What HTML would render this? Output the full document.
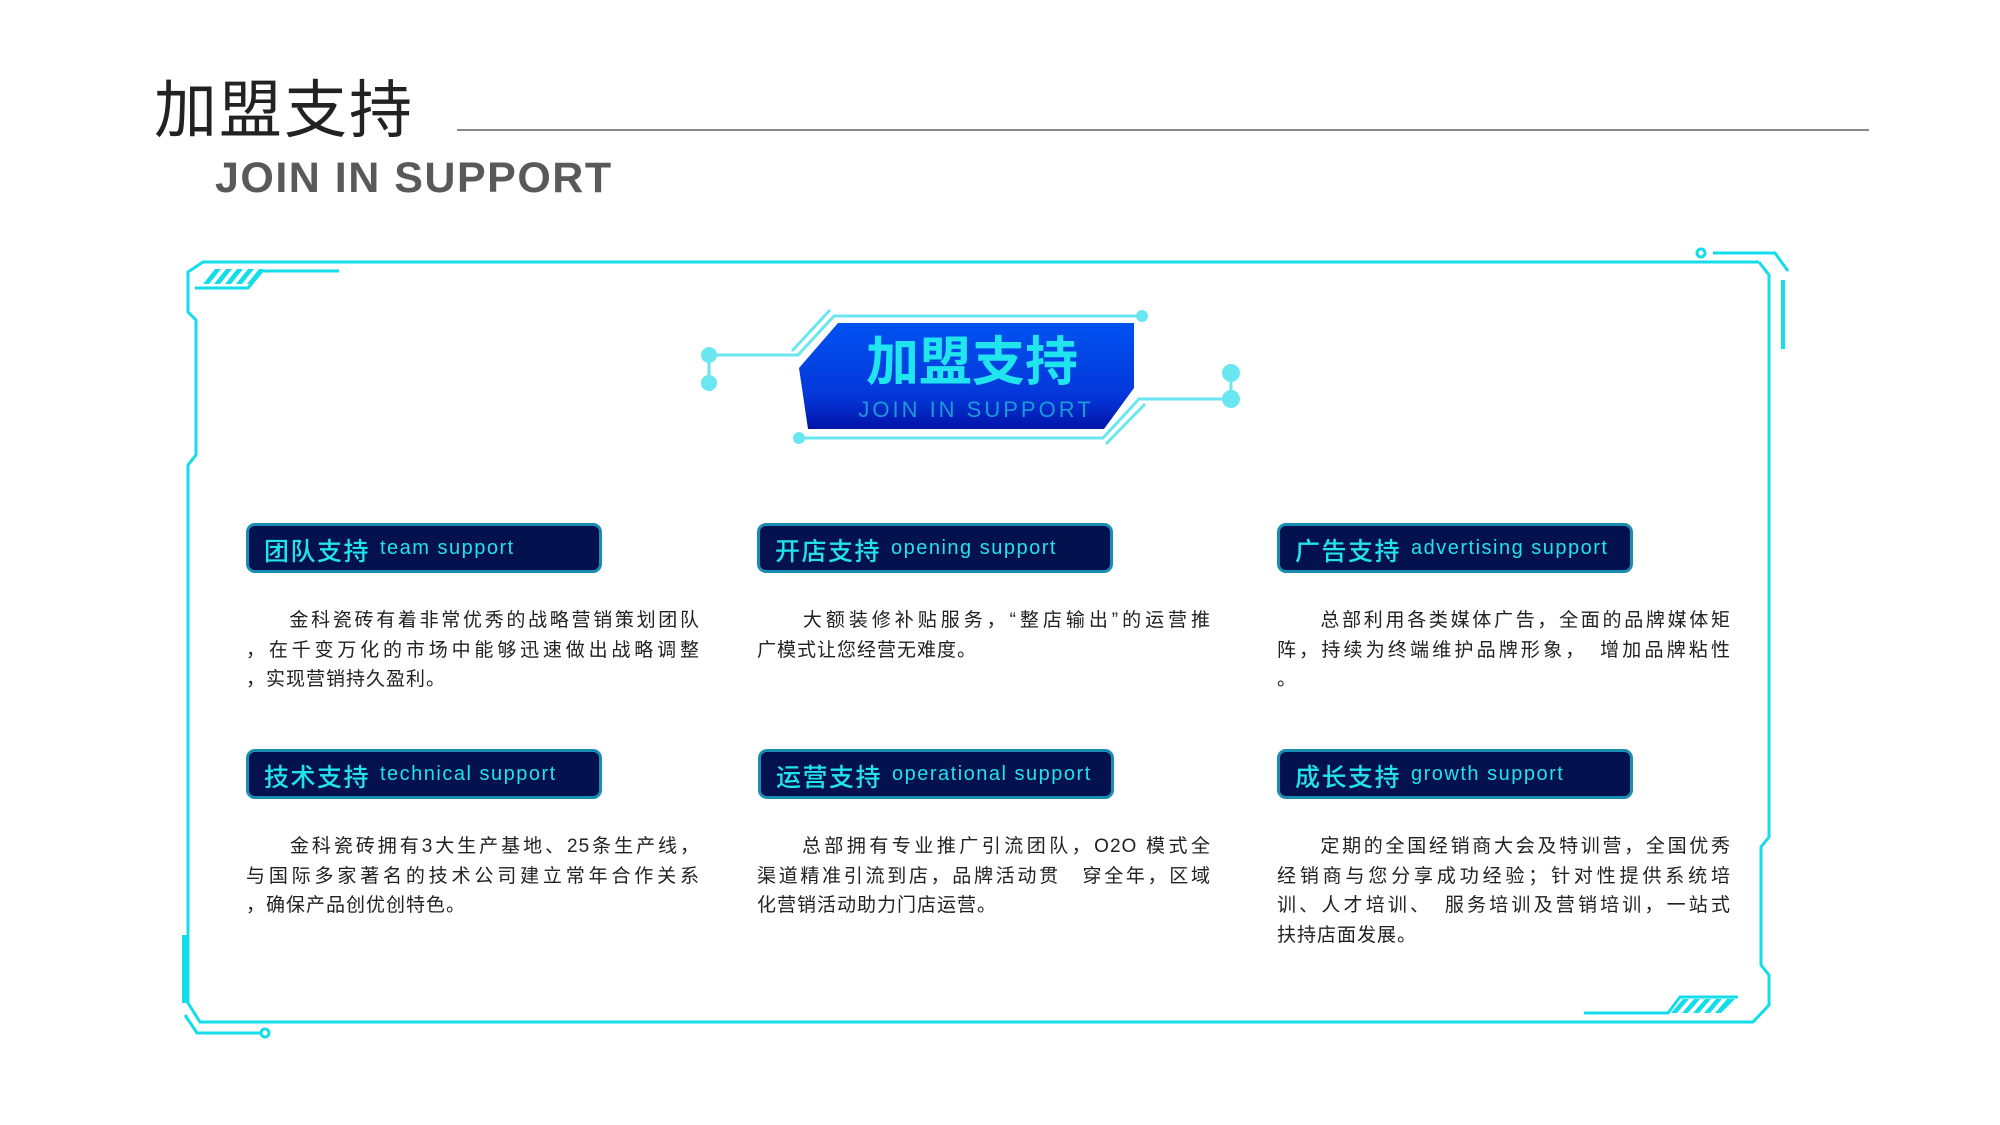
<!DOCTYPE html>
<html><head><meta charset="utf-8"><style>
*{margin:0;padding:0;box-sizing:border-box}
body{width:2000px;height:1125px;background:#fff;position:relative;overflow:hidden;font-family:"Liberation Sans","Noto Sans CJK SC",sans-serif}
.a{position:absolute}
.hd{position:absolute;height:50px;width:356px;background:#03114f;border:3px solid #1b8db3;border-radius:9px;color:#22e2ea;white-space:nowrap}
.hd b{font-size:25px;position:absolute;left:15px;top:6px;letter-spacing:1.5px;font-weight:500;font-family:"Noto Sans CJK SC",sans-serif}
.hd span{font-size:20px;position:absolute;left:131px;top:11px;letter-spacing:1.5px}
.tx{position:absolute;width:454px;font-size:19px;color:#222;line-height:29.5px;letter-spacing:1px}
.tx div{text-align:justify;text-align-last:justify;white-space:nowrap}
.tx div.l{text-align-last:left}
</style></head><body>
<div class="a" style="left:154px;top:60px;font-size:63px;color:#222;font-family:'Noto Sans CJK SC',sans-serif;letter-spacing:2px">加盟支持</div>
<div class="a" style="left:215px;top:154px;font-size:43px;color:#595959;font-weight:bold;letter-spacing:1.5px">JOIN IN SUPPORT</div>
<div class="a" style="left:457px;top:129px;width:1412px;height:2px;background:#888"></div>

<svg class="a" style="left:0;top:0" width="2000" height="1125">
<g fill="none" stroke="#13dde8" stroke-width="3">
<polyline points="1759,262 203,262 188,272 188,312 196,320 196,455 188,465 188,1003 200,1022 1753,1022 1769,1005 1769,975 1761,965 1761,847 1769,837 1769,275 1759,262"/>
<polyline points="185,1015 197,1033 260,1033"/>
<circle cx="265" cy="1033" r="4"/>
<polyline points="195,288 248,288 262,271 339,271"/>
<circle cx="1701" cy="253" r="4"/>
<polyline points="1713,253 1775,253 1788,271"/>
<polyline points="1584,1013 1668,1013 1680,997 1738,997"/>
</g>
<rect x="1781" y="280" width="4" height="69" fill="#13dde8"/>
<rect x="182" y="935" width="6" height="68" fill="#13dde8"/>
<g fill="#13dde8">
<polygon points="203,284 215,269 221,269 209,284"/><polygon points="214,284 226,269 232,269 220,284"/><polygon points="225,284 237,269 243,269 231,284"/><polygon points="236,284 248,269 254,269 242,284"/><polygon points="247,284 259,269 263,269 251,284"/>
<polygon points="1671,1013 1683,999 1689,999 1677,1013"/><polygon points="1682,1013 1694,999 1700,999 1688,1013"/><polygon points="1693,1013 1705,999 1711,999 1699,1013"/><polygon points="1704,1013 1716,999 1722,999 1710,1013"/><polygon points="1715,1013 1727,999 1735,999 1721,1013"/>
</g>
<defs><linearGradient id="g" x1="0" y1="0" x2="0" y2="1"><stop offset="0" stop-color="#0052f2"/><stop offset="0.7" stop-color="#0436d8"/><stop offset="1" stop-color="#0014a8"/></linearGradient></defs>
<polygon points="799,368 838,323 1134,323 1134,388 1104,429 808,429" fill="url(#g)"/>
<g fill="none" stroke="#6ae6f0" stroke-width="3">
<polyline points="709,355 798,355 834,316 1142,316"/>
<line x1="792" y1="351" x2="830" y2="310"/>
<polyline points="799,438 1103,438 1139,399 1231,399"/>
<line x1="1106" y1="444" x2="1145" y2="404"/>
<line x1="709" y1="355" x2="709" y2="383"/>
<line x1="1231" y1="373" x2="1231" y2="399"/>
</g>
<g fill="#6ae6f0">
<circle cx="709" cy="355" r="8"/><circle cx="709" cy="383" r="8"/>
<circle cx="1142" cy="316" r="6"/><circle cx="799" cy="438" r="6"/>
<circle cx="1231" cy="373" r="9"/><circle cx="1231" cy="399" r="9"/>
</g>
<text x="972" y="380" text-anchor="middle" font-size="53" font-weight="bold" fill="#20e4ee" font-family="Noto Sans CJK SC,sans-serif">加盟支持</text>
<text x="976" y="417" text-anchor="middle" font-size="22" fill="#1a9bd6" letter-spacing="3" font-family="Liberation Sans,sans-serif">JOIN IN SUPPORT</text>
</svg>

<div class="hd" style="left:246px;top:523px"><b>团队支持</b><span>team support</span></div>
<div class="hd" style="left:757px;top:523px"><b>开店支持</b><span>opening support</span></div>
<div class="hd" style="left:1277px;top:523px"><b>广告支持</b><span>advertising support</span></div>
<div class="hd" style="left:246px;top:749px"><b>技术支持</b><span>technical support</span></div>
<div class="hd" style="left:758px;top:749px"><b>运营支持</b><span>operational support</span></div>
<div class="hd" style="left:1277px;top:749px"><b>成长支持</b><span>growth support</span></div>

<div class="tx" style="left:246px;top:606px"><div>　　金科瓷砖有着非常优秀的战略营销策划团队</div><div>，在千变万化的市场中能够迅速做出战略调整</div><div class="l">，实现营销持久盈利。</div></div>
<div class="tx" style="left:757px;top:606px"><div>　　大额装修补贴服务，“整店输出”的运营推</div><div class="l">广模式让您经营无难度。</div></div>
<div class="tx" style="left:1277px;top:606px"><div>　　总部利用各类媒体广告，全面的品牌媒体矩</div><div>阵，持续为终端维护品牌形象，　增加品牌粘性</div><div class="l">。</div></div>
<div class="tx" style="left:246px;top:832px"><div>　　金科瓷砖拥有3大生产基地、25条生产线，</div><div>与国际多家著名的技术公司建立常年合作关系</div><div class="l">，确保产品创优创特色。</div></div>
<div class="tx" style="left:757px;top:832px"><div>　　总部拥有专业推广引流团队，O2O 模式全</div><div>渠道精准引流到店，品牌活动贯　穿全年，区域</div><div class="l">化营销活动助力门店运营。</div></div>
<div class="tx" style="left:1277px;top:832px"><div>　　定期的全国经销商大会及特训营，全国优秀</div><div>经销商与您分享成功经验；针对性提供系统培</div><div>训、人才培训、　服务培训及营销培训，一站式</div><div class="l">扶持店面发展。</div></div>
</body></html>
